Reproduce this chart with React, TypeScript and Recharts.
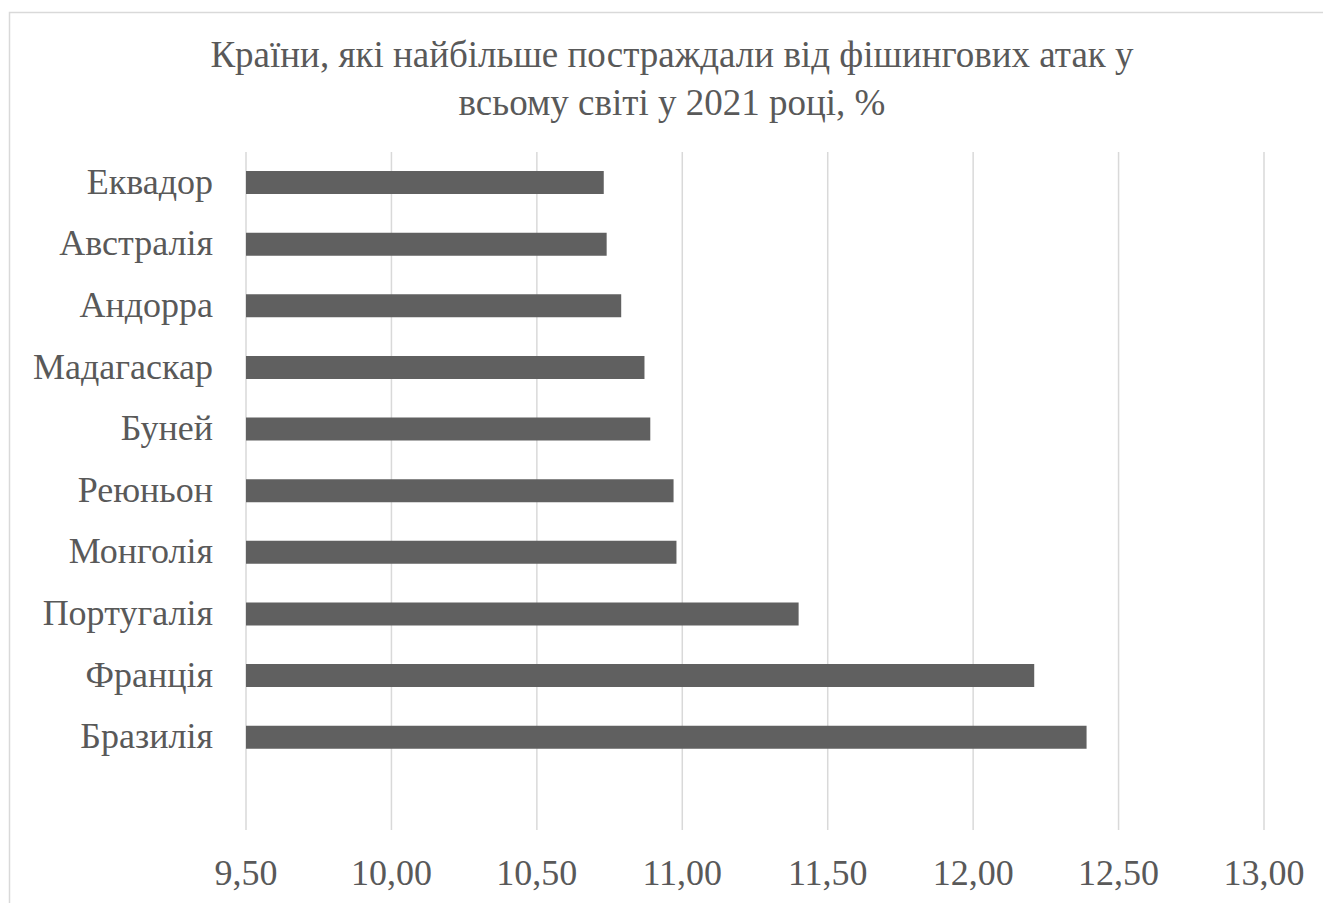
import React from 'react';
import { BarChart, Bar, XAxis, YAxis, CartesianGrid } from 'recharts';

// categories top to bottom; the trailing blank row leaves an empty slot under the last bar
const countries = ['Еквадор', 'Австралія', 'Андорра', 'Мадагаскар', 'Буней', 'Реюньон', 'Монголія', 'Португалія', 'Франція', 'Бразилія', ''];
const shares: (number | null)[] = [10.73, 10.74, 10.79, 10.87, 10.89, 10.97, 10.98, 11.4, 12.21, 12.39, null];
const valueTicks = [9.5, 10, 10.5, 11, 11.5, 12, 12.5, 13];
const titleLines = ['Країни, які найбільше постраждали від фішингових атак у', 'всьому світі у 2021 році, %'];

const data = countries.map((country, i) => ({ country, share: shares[i] }));

const W = 1323;
const H = 903;
const FONT = '"Liberation Serif", "Times New Roman", serif';
const TEXT = '#595959';

const fmt = (v: number) => v.toFixed(2).replace('.', ',');

export default function App() {
  return (
    <div style={{ position: 'absolute', left: 0, top: 0, width: W, height: H, background: '#fff' }}>
      <BarChart
        width={W}
        height={H}
        data={data}
        layout="vertical"
        margin={{ top: 152, right: 59, bottom: 13, left: 0 }}
      >
        <CartesianGrid horizontal={false} stroke="#d9d9d9" strokeWidth={1.5} />
        <XAxis
          type="number"
          domain={[9.5, 13]}
          ticks={valueTicks}
          tickFormatter={fmt}
          axisLine={false}
          tickLine={false}
          tickSize={0}
          tickMargin={29}
          height={60}
          interval={0}
          tick={{ fill: TEXT, fontSize: 36, fontFamily: FONT }}
        />
        <YAxis
          type="category"
          dataKey="country"
          width={246}
          axisLine={false}
          tickLine={false}
          tickSize={0}
          tickMargin={33}
          interval={0}
          tick={{ fill: TEXT, fontSize: 36, fontFamily: FONT, dy: -2 }}
        />
        <Bar dataKey="share" fill="#606060" barSize={23} isAnimationActive={false} />
      </BarChart>
      <svg
        width={W}
        height={H}
        style={{ position: 'absolute', left: 0, top: 0, pointerEvents: 'none' }}
      >
        <rect x={9.5} y={12.5} width={1400} height={1000} fill="none" stroke="#d9d9d9" strokeWidth={1.5} />
        {titleLines.map((line, i) => (
          <text
            key={i}
            x={672}
            y={67 + i * 48}
            textAnchor="middle"
            fill={TEXT}
            fontSize={37}
            fontFamily={FONT}
          >
            {line}
          </text>
        ))}
      </svg>
    </div>
  );
}
